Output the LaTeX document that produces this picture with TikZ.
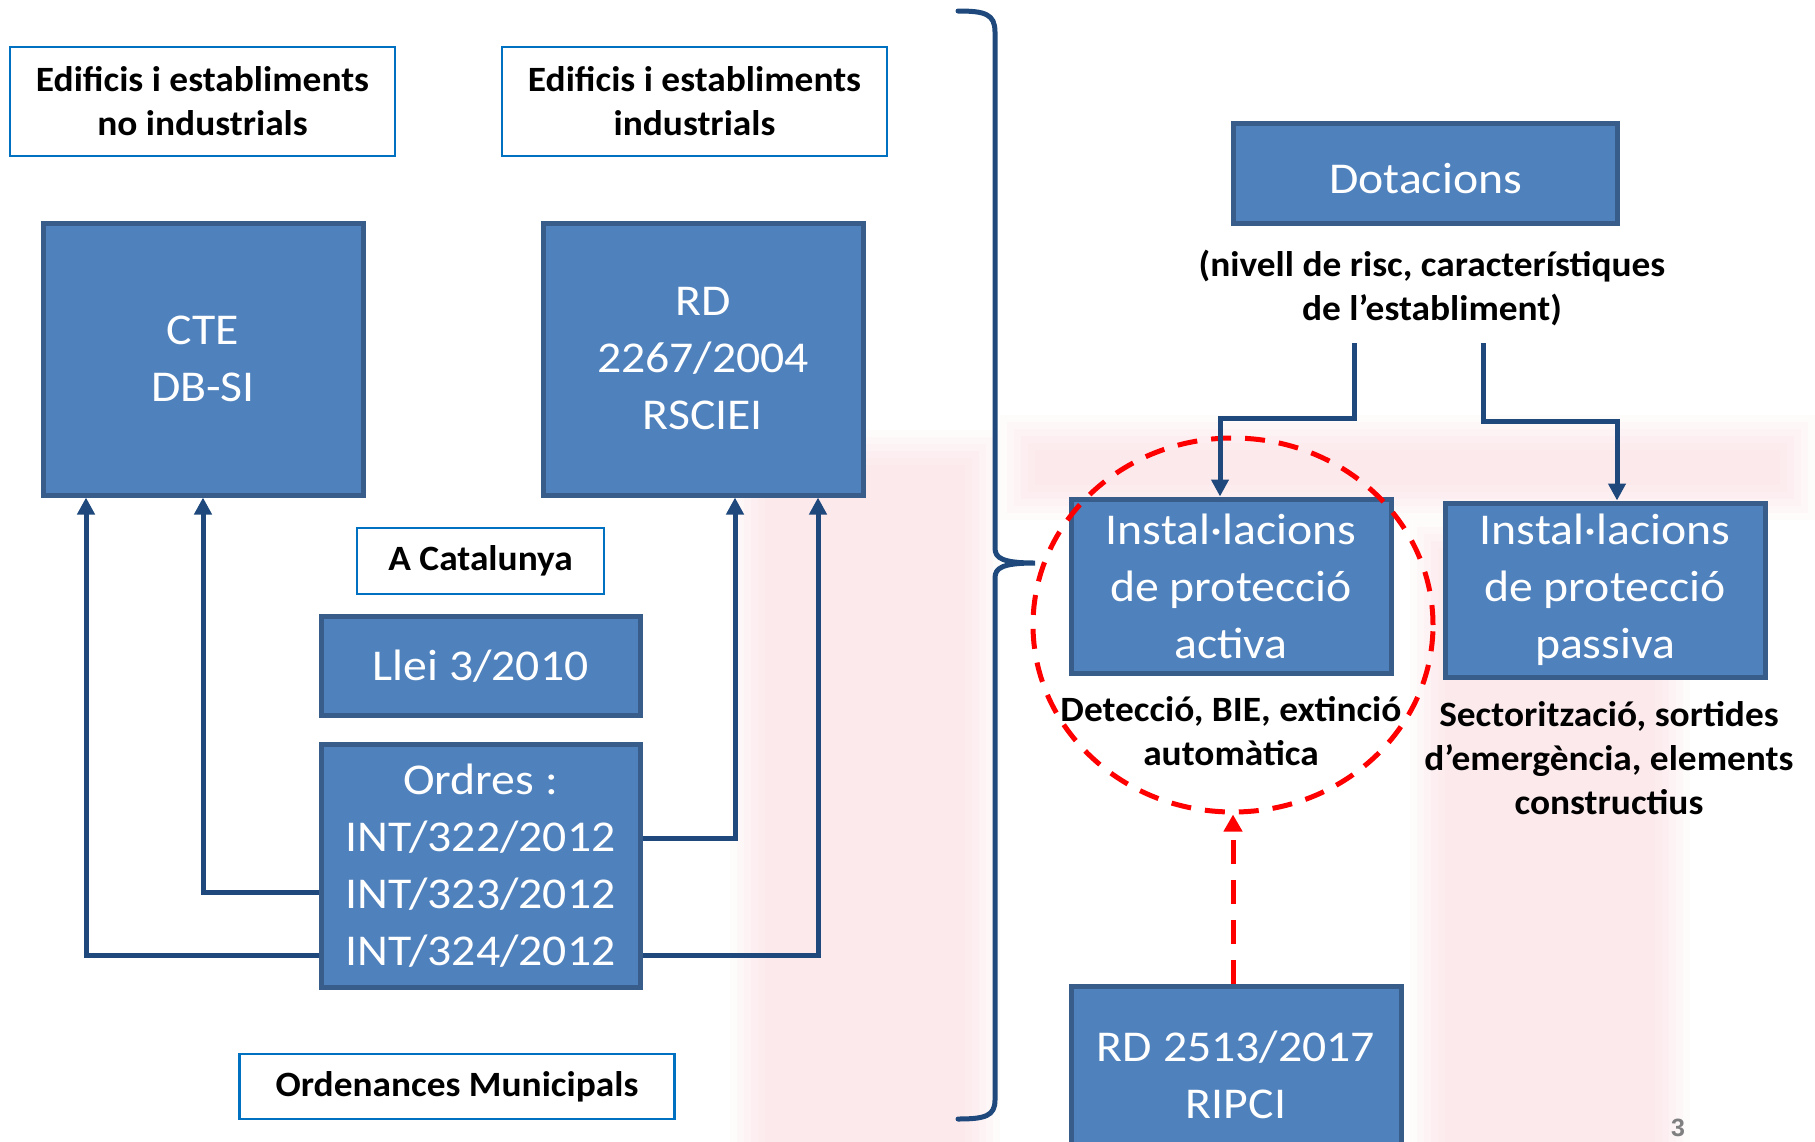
\documentclass[tikz,border=0pt]{standalone}
\usepackage{fontspec}
\setmainfont{Carlito}
\newfontfamily\boxfont{Carlito}[FakeStretch=1.085]
\newfontfamily\labfont{Carlito}[FakeStretch=1.05]
\newfontfamily\pagefont{Liberation Sans}
\usetikzlibrary{arrows.meta,shapes.geometric}

\definecolor{boxblue}{RGB}{79,129,189}
\definecolor{boxline}{RGB}{56,93,138}
\definecolor{framblue}{RGB}{0,112,192}
\definecolor{arrblue}{RGB}{31,73,125}
\definecolor{pagegray}{RGB}{127,127,127}
\definecolor{markpink}{RGB}{240,160,172}

\newcommand{\pxl}[1]{#1*0.5pt}
\newcommand{\bbx}{\node[draw=boxline, line width=2.5pt, fill=boxblue, text=white, align=center, inner sep=0pt, font=\boxfont\fontsize{22}{28.5}\selectfont]}
\newcommand{\wbx}{\node[draw=framblue, line width=1.2pt, fill=white, align=center, inner sep=0pt, font=\labfont\bfseries\fontsize{17.8}{22}\selectfont]}
\newcommand{\tn}{\node[align=center, inner sep=0pt, font=\labfont\bfseries\fontsize{17.8}{22}\selectfont]}
% faint watermark patch, soft edges from stacked layers
\newcommand{\wmark}[4]{%
  \foreach \g in {0,7,...,35} {
    \fill[markpink, opacity=0.045] (#1+\g,#2+\g) rectangle (#3-\g,#4-\g);
  }}

\tikzset{
  link/.style={draw=arrblue, line width=2.5pt, -{Triangle[width=8.5pt,length=8.5pt]}},
  redlink/.style={draw=red, line width=2.5pt, dash pattern=on 12pt off 8pt, -{Triangle[width=9pt,length=8.5pt]}},
  brace/.style={draw=arrblue, line width=2.5pt, line cap=round},
}

\begin{document}
\begin{tikzpicture}[x=0.5pt, y=-0.5pt]
\useasboundingbox (0,0) rectangle (1815,1141);

% background watermark
\wmark{1000}{415}{1815}{520}
\wmark{1410}{520}{1690}{1200}
\wmark{730}{430}{1000}{1200}

% left part
\wbx[minimum width=\pxl{385}, minimum height=\pxl{109}] (nind) at (202.5,101.5) {Edificis i establiments\\no industrials};
\wbx[minimum width=\pxl{385}, minimum height=\pxl{109}] (ind) at (694.5,101.5) {Edificis i establiments\\industrials};
\bbx[minimum width=\pxl{320}, minimum height=\pxl{272}] (cte) at (203,359) {CTE\\DB-SI};
\bbx[minimum width=\pxl{320}, minimum height=\pxl{272}] (rd) at (703,359) {RD\\2267/2004\\RSCIEI};
\wbx[minimum width=\pxl{247}, minimum height=\pxl{66}] (cat) at (480.5,561) {A Catalunya};
\bbx[minimum width=\pxl{319}, minimum height=\pxl{99}] (llei) at (480.5,666) {Llei 3/2010};
\bbx[minimum width=\pxl{319}, minimum height=\pxl{243}] (ordr) at (480.5,865.5) {Ordres :\\INT/322/2012\\INT/323/2012\\INT/324/2012};
\wbx[minimum width=\pxl{435}, minimum height=\pxl{65}] (ordm) at (457,1086.5) {Ordenances Municipals};

\draw[link] ([shift={(0,-27.5)}]ordr.east) -| ([shift={(32,0)}]rd.south);
\draw[link] ([shift={(0,89.5)}]ordr.east) -| ([shift={(115,0)}]rd.south);
\draw[link] ([shift={(0,26.5)}]ordr.west) -| (cte.south);
\draw[link] ([shift={(0,89.5)}]ordr.west) -| ([shift={(-117,0)}]cte.south);

% brace
\draw[brace] (958,11) .. controls (985,11) and (995,14) .. (995,32) -- (995,548)
  .. controls (995,558) and (1002,563) .. (1035,563)
  .. controls (1002,563) and (995,568) .. (995,578) -- (995,1100)
  .. controls (995,1116) and (985,1119) .. (958,1119);

% right part
\bbx[minimum width=\pxl{384}, minimum height=\pxl{100}, text height=20pt] (dot) at (1425.5,173.5) {Dotacions};
\tn (nota) at (1432,288) {(nivell de risc, característiques\\de l’establiment)};
\coordinate (s1) at (1354,343);
\coordinate (s2) at (1483,343);
\bbx[minimum width=\pxl{320}, minimum height=\pxl{174}] (act) at (1231,586) {Instal·lacions\\de protecció\\activa};
\bbx[minimum width=\pxl{320}, minimum height=\pxl{174}] (pas) at (1605,590) {Instal·lacions\\de protecció\\passiva};
\tn (det) at (1231,731) {Detecció, BIE, extinció\\automàtica};
\tn (sec) at (1609,758) {Sectorització, sortides\\d’emergència, elements\\constructius};
\node[ellipse, draw=red, line width=2.5pt, dash pattern=on 10pt off 7pt, minimum width=\pxl{400}, minimum height=\pxl{374}, inner sep=0pt] (circ) at (1233,625) {};
\bbx[minimum width=\pxl{330}, minimum height=\pxl{177}] (ripci) at (1236,1074.5) {RD 2513/2017\\RIPCI};

\draw[link] (s1) -- ++(0,75) -| ([shift={(-11,0)}]act.north);
\draw[link] (s2) -- ++(0,78) -| ([shift={(12,0)}]pas.north);
\draw[redlink] (circ.south |- ripci.north) -- (circ.south);

\node[font=\pagefont\bfseries\fontsize{12.5}{15}\selectfont, text=pagegray] (pnum) at (1678,1128) {3};
\end{tikzpicture}
\end{document}
